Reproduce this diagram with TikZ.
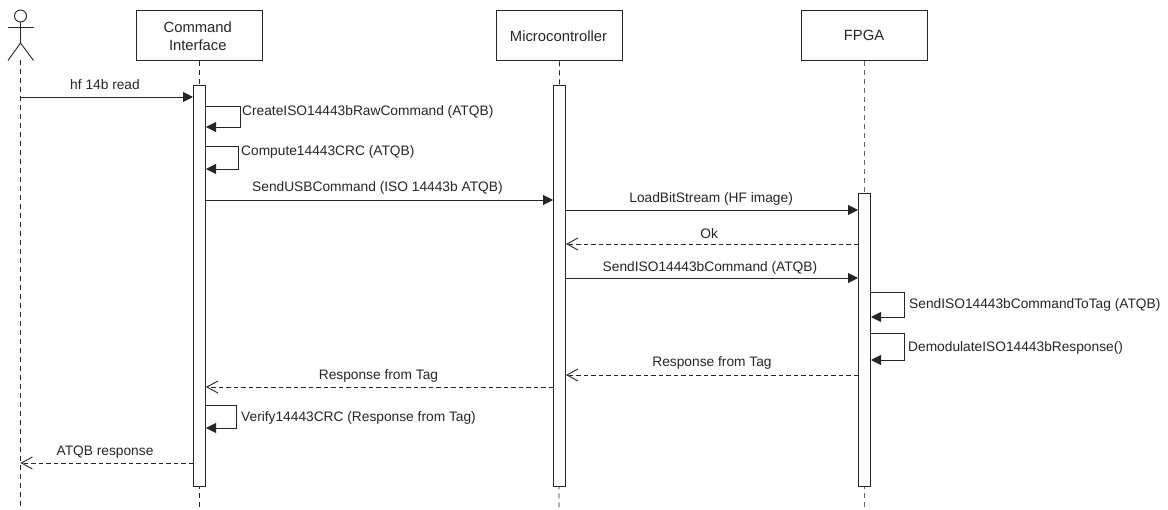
\documentclass[tikz,border=0pt]{standalone}
\usepackage{fontspec}
\setmainfont{Liberation Sans}
\usetikzlibrary{arrows.meta}
\definecolor{ink}{HTML}{262626}
\tikzset{
  x=1pt,y=-1pt,
  every node/.style={font=\fontsize{13.75}{15}\selectfont,text=ink},
  boxnode/.style={draw=ink,line width=1pt,fill=white,minimum width=125.5pt,minimum height=50.5pt,anchor=north,align=center,inner sep=0pt,font=\fontsize{14.8}{15}\selectfont},
  actbar/.style={draw=ink,line width=1pt,fill=white,minimum width=12pt,anchor=north,inner sep=0pt},
  lifeln/.style={draw=ink,line width=.9pt,dash pattern=on 5pt off 4pt},
  msg/.style={draw=ink,line width=.9pt,-{Triangle[length=10pt,width=10pt]}},
  ret/.style={draw=ink,line width=.9pt,dash pattern=on 4.5pt off 3pt,-{Straight Barb[length=11pt,width=12pt]}},
  selfmsg/.style={draw=ink,line width=.9pt,rounded corners=0pt,-{Triangle[length=10pt,width=10pt]}},
  lbl/.style={inner sep=0pt},
  selflbl/.style={inner sep=0pt,anchor=west},
}
\begin{document}
\begin{tikzpicture}
\useasboundingbox (0,0) rectangle (1168,510);
\fill[white] (0,0) rectangle (1168,510);

% lifelines' heads
\node[boxnode] (ci) at (199.5,10) {Command\hspace*{3.4pt}\\[3pt]Interface\hspace*{3.4pt}};
\node[boxnode] (mc) at (559.5,10) {Microcontroller\hspace*{2pt}};
\node[boxnode] (fp) at (864.5,10) {FPGA\hspace*{1pt}};

% actor
\coordinate (acthip) at (20.5,43);
\coordinate (actfoot) at (20.5,60);
\node[draw=ink,line width=.9pt,circle,minimum size=12pt,inner sep=0pt] (acthead) at (20.5,16) {};
\draw[draw=ink,line width=.9pt] (acthead.south) -- (acthip);
\draw[draw=ink,line width=.9pt] (8,27) -- (34,27);
\draw[draw=ink,line width=.9pt] (8,60.5) -- (acthip) -- (33.5,60.5);

% lifelines
\coordinate (actend) at (20.5,510);
\coordinate (ciend) at (199.5,510);
\coordinate (mcend) at (559,510);
\coordinate (fpend) at (864.5,510);
\draw[lifeln] (actfoot) -- (actend);
\draw[lifeln] (ci.south) -- (ciend);
\draw[lifeln] (mc.south) -- (mcend);
\draw[lifeln,draw=ink!70,line width=.6pt] (fp.south) -- (fpend);

% activation bars
\node[actbar,minimum height=401pt] (ciact) at (199.5,85) {};
\node[actbar,minimum height=401pt] (mcact) at (559.5,85) {};
\node[actbar,minimum height=293pt] (fpact) at (864.5,193) {};

% message rows
\coordinate (r1) at (0,97);
\coordinate (r2) at (0,200);
\coordinate (r3) at (0,210);
\coordinate (r4) at (0,244);
\coordinate (r5) at (0,278);
\coordinate (r6) at (0,375);
\coordinate (r7) at (0,387);
\coordinate (r8) at (0,463);

\draw[msg] (actend |- r1) -- node[lbl,pos=.49,yshift=12pt] (l1) {hf 14b read} (ciact.west |- r1);
\draw[msg] (ciact.east |- r2) -- node[lbl,pos=.494,yshift=12pt] (l2) {SendUSBCommand (ISO 14443b ATQB)} (mcact.west |- r2);
\draw[msg] (mcact.east |- r3) -- node[lbl,pos=.497,yshift=11.5pt] (l3) {LoadBitStream (HF image)} (fpact.west |- r3);
\draw[ret] (fpact.west |- r4) -- node[lbl,pos=.51,yshift=10.5pt] (l4) {Ok} (mcact.east |- r4);
\draw[msg] (mcact.east |- r5) -- node[lbl,pos=.493,yshift=10.5pt] (l5) {SendISO14443bCommand (ATQB)} (fpact.west |- r5);
\draw[ret] (fpact.west |- r6) -- node[lbl,pos=.50,yshift=12pt] (l6) {Response from Tag} (mcact.east |- r6);
\draw[ret] (mcact.west |- r7) -- node[lbl,pos=.503,yshift=11pt] (l7) {Response from Tag} (ciact.east |- r7);
\draw[ret] (ciact.west |- r8) -- node[lbl,pos=.51,yshift=11pt] (l8) {ATQB response} (actend |- r8);

% self messages
\coordinate (s1a) at (240,106); \coordinate (s1b) at (240,127);
\coordinate (s2a) at (238,146); \coordinate (s2b) at (238,169);
\coordinate (s3a) at (904.5,292); \coordinate (s3b) at (904.5,317);
\coordinate (s4a) at (904.5,333); \coordinate (s4b) at (904.5,360);
\coordinate (s5a) at (236.5,405); \coordinate (s5b) at (236.5,428);
\draw[selfmsg] (ciact.east |- s1a) -- (s1a) -- (s1b) -- (ciact.east |- s1b);
\draw[selfmsg] (ciact.east |- s2a) -- (s2a) -- (s2b) -- (ciact.east |- s2b);
\draw[selfmsg] (fpact.east |- s3a) -- (s3a) -- (s3b) -- (fpact.east |- s3b);
\draw[selfmsg] (fpact.east |- s4a) -- (s4a) -- (s4b) -- (fpact.east |- s4b);
\draw[selfmsg] (ciact.east |- s5a) -- (s5a) -- (s5b) -- (ciact.east |- s5b);
\node[selflbl] (t1) at (242,112) {CreateISO14443bRawCommand (ATQB)};
\node[selflbl] (t2) at (241,152) {Compute14443CRC (ATQB)};
\node[selflbl] (t3) at (909,305) {SendISO14443bCommandToTag (ATQB)};
\node[selflbl] (t4) at (908,348) {DemodulateISO14443bResponse()};
\node[selflbl] (t5) at (241,417.5) {Verify14443CRC (Response from Tag)};
\end{tikzpicture}
\end{document}
